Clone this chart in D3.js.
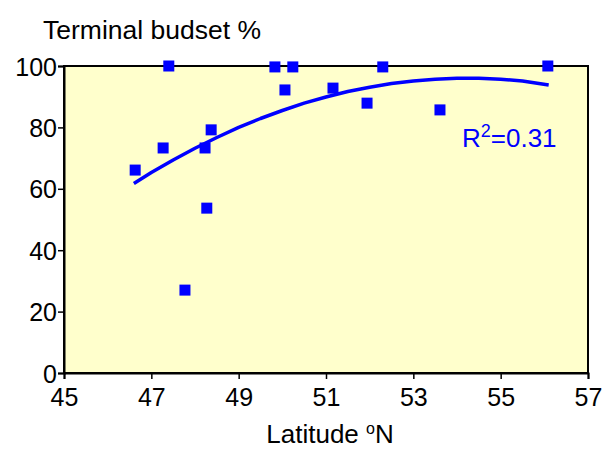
<!DOCTYPE html>
<html>
<head>
<meta charset="utf-8">
<script src="https://cdn.jsdelivr.net/npm/d3@7"></script>
<style>
  html, body { margin: 0; padding: 0; background: #ffffff; }
  svg { display: block; }
  text { font-family: "Liberation Sans", Arial, sans-serif; fill: #000; }
</style>
</head>
<body>
<svg id="chart" width="603" height="450"></svg>
<script>
// Observed points: latitude (°N) and terminal budset (%)
const latitude = [46.63, 47.27, 47.40, 47.77, 48.23, 48.27, 48.37, 49.83, 50.06, 50.24, 51.16, 51.94, 52.30, 53.61, 56.08];
const budset   = [66.1, 73.3, 100.0, 27.0, 73.3, 53.7, 79.2, 99.7, 92.2, 99.7, 92.8, 87.9, 99.7, 85.7, 100.0];

// Trend line
const trendX = [46.6, 47.0, 47.5, 48.0, 48.5, 49.0, 49.5, 50.0, 50.5, 51.0, 51.5, 52.0, 52.5, 53.0, 53.5, 54.0, 54.5, 55.0, 55.5, 56.1];
const trendY = [61.7, 65.3, 69.4, 73.2, 76.7, 80.0, 82.9, 85.5, 87.9, 89.9, 91.7, 93.1, 94.3, 95.1, 95.7, 96.0, 96.0, 95.7, 95.1, 93.8];

const xTicks = [45, 47, 49, 51, 53, 55, 57];
const yTicks = [0, 20, 40, 60, 80, 100];
const r2Label = "0.31";

const svg = d3.select("#chart");
const pL = 64, pR = 588, pT = 66, pB = 373;

const x = d3.scaleLinear().domain([45, 57]).range([pL, pR]);
const y = d3.scaleLinear().domain([0, 100]).range([pB, pT]);

// plot area
svg.append("rect")
  .attr("x", pL).attr("y", pT)
  .attr("width", pR - pL).attr("height", pB - pT)
  .attr("fill", "#ffffcc")
  .attr("stroke", "#000").attr("stroke-width", 2);

// axes
const yAxis = svg.append("g")
  .attr("transform", `translate(${pL},0)`)
  .call(d3.axisLeft(y).tickValues(yTicks).tickSize(6).tickPadding(1).tickFormat(d3.format("d")));
const xAxis = svg.append("g")
  .attr("transform", `translate(0,${pB})`)
  .call(d3.axisBottom(x).tickValues(xTicks).tickSize(6).tickPadding(9).tickFormat(d3.format("d")));

[yAxis, xAxis].forEach(g => {
  g.select(".domain").attr("stroke", "#000").attr("stroke-width", 2);
  g.selectAll(".tick line").attr("stroke", "#000").attr("stroke-width", 1.5);
  g.selectAll(".tick text").style("font-size", "25px").style("font-family", "Liberation Sans, Arial, sans-serif").attr("fill", "#000");
});
yAxis.selectAll(".tick text").attr("dy", "0.36em");

// trend line
svg.append("path")
  .datum(trendX.map((d, i) => [d, trendY[i]]))
  .attr("fill", "none")
  .attr("stroke", "#0000ff")
  .attr("stroke-width", 3.5)
  .attr("stroke-linejoin", "round")
  .attr("d", d3.line().x(d => x(d[0])).y(d => y(d[1])));

// points
const s = 11;
svg.append("g").selectAll("rect")
  .data(latitude.map((d, i) => [d, budset[i]]))
  .join("rect")
  .attr("x", d => x(d[0]) - s / 2)
  .attr("y", d => y(d[1]) - s / 2)
  .attr("width", s).attr("height", s)
  .attr("fill", "#0000ff");

// R² label
const r2 = svg.append("text")
  .attr("x", 462).attr("y", 147)
  .style("font-size", "26px")
  .style("fill", "#0000ff");
r2.append("tspan").text("R");
r2.append("tspan").attr("dy", -10).style("font-size", "18px").text("2");
r2.append("tspan").attr("dy", 10).text("=" + r2Label);

// titles
svg.append("text")
  .attr("x", 43).attr("y", 39)
  .style("font-size", "26.5px")
  .text("Terminal budset %");

const xt = svg.append("text")
  .attr("x", 330).attr("y", 443)
  .attr("text-anchor", "middle")
  .style("font-size", "26px");
xt.append("tspan").text("Latitude ");
xt.append("tspan").attr("dy", -9).style("font-size", "16px").text("o");
xt.append("tspan").attr("dy", 9).text("N");
</script>
</body>
</html>
